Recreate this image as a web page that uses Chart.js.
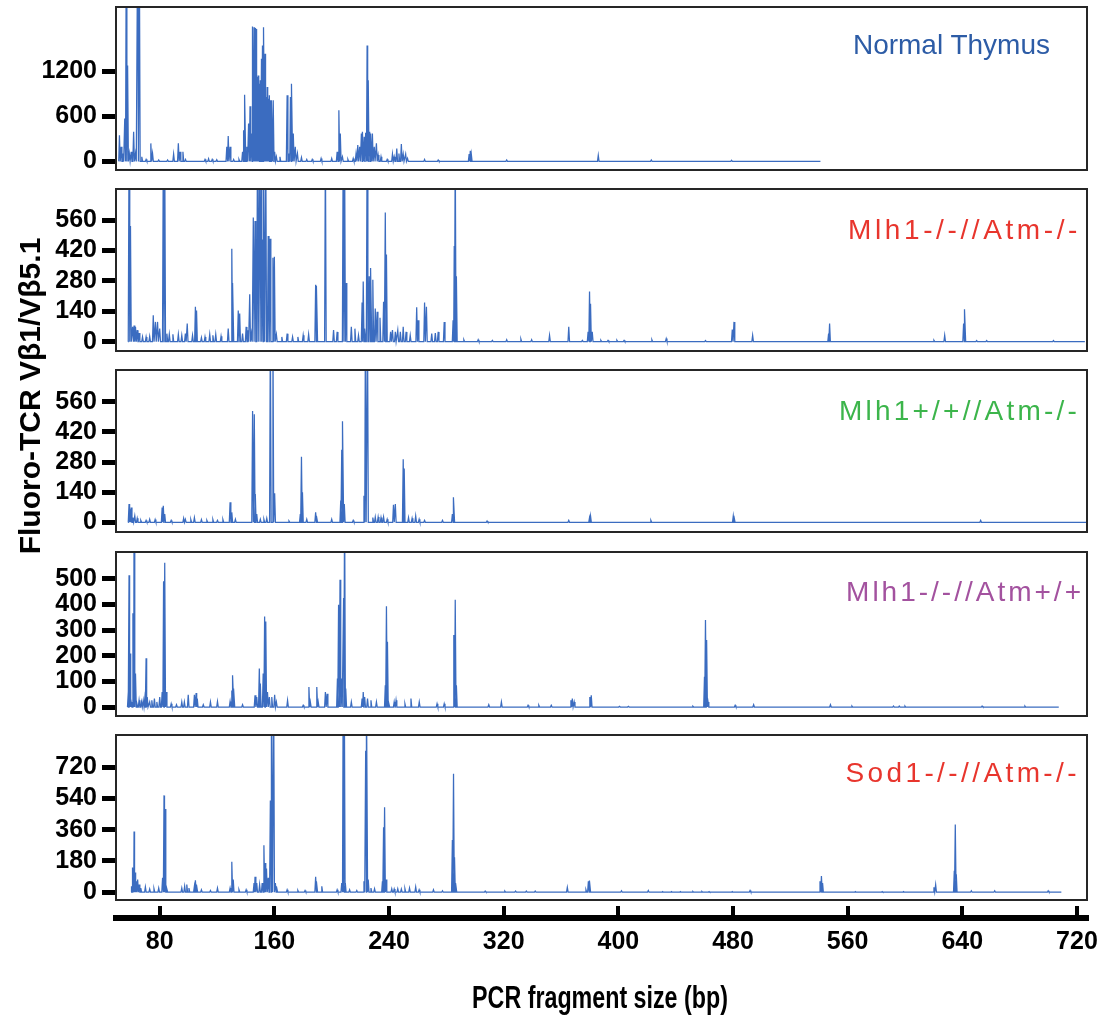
<!DOCTYPE html>
<html>
<head>
<meta charset="utf-8">
<script src="https://cdn.jsdelivr.net/npm/chart.js@4.4.1/dist/chart.umd.min.js"></script>
<style>
  html, body { margin: 0; padding: 0; background: #fff; overflow: hidden; }
  #wrap { position: relative; width: 1098px; height: 1016px; }
  canvas { position: absolute; left: 0; }
  .tag { position: absolute; font-family: 'Liberation Sans', Arial, sans-serif; font-size: 28px; line-height: 28px; white-space: nowrap; }
  #ytitle { position: absolute; left: -185px; top: 380px; width: 430px; height: 32px; line-height: 32px; text-align: center;
            font-family: 'Liberation Sans', Arial, sans-serif; font-weight: bold; font-size: 30px; transform: rotate(-90deg); color: #000; white-space: nowrap; }
  #xtitle { position: absolute; left: 300px; width: 600px; top: 981px; text-align: center; line-height: 34px;
            font-family: 'Liberation Sans', Arial, sans-serif; font-weight: bold; font-size: 31px; color: #000; white-space: nowrap;
            transform: scaleX(0.75); transform-origin: 300px 50%; }
</style>
</head>
<body>
<div id="wrap">
  <canvas id="p1"></canvas>
  <canvas id="p2"></canvas>
  <canvas id="p3"></canvas>
  <canvas id="p4"></canvas>
  <canvas id="p5"></canvas>
  <canvas id="axis"></canvas>
  <div class="tag" id="t1" style="right:48px; top:31px; color:#2d5ca6;">Normal Thymus</div>
  <div class="tag" id="t2" style="right:17px; top:216px; color:#e8352d; letter-spacing:3.6px;">Mlh1-/-//Atm-/-</div>
  <div class="tag" id="t3" style="right:18px; top:397px; color:#3cb54b; letter-spacing:3.2px;">Mlh1+/+//Atm-/-</div>
  <div class="tag" id="t4" style="right:14px; top:578px; color:#a3529f; letter-spacing:3.0px;">Mlh1-/-//Atm+/+</div>
  <div class="tag" id="t5" style="right:18px; top:759px; color:#e8352d; letter-spacing:3.4px;">Sod1-/-//Atm-/-</div>
  <div id="ytitle">Fluoro-TCR Vβ1/Vβ5.1</div>
  <div id="xtitle">PCR fragment size (bp)</div>
</div>
<script>
// Fragment-size axis (bp)
const sizeTicks = [80, 160, 240, 320, 400, 480, 560, 640, 720];
const sizeMin = 49.5;
const sizeMax = 727;

// Normal thymus trace: peak positions (bp) and fluorescence
const thymusSize = [51.9,53.1,54.3,55.6,56.6,57.6,58.8,60.1,61.8,63.1,64.6,65.8,67.5,70.5,73.8,75,79.3,85.5,89.7,93,94.2,96.2,98,111.6,114.1,116.6,119.8,126.8,127.8,129.1,131.6,135.3,137.8,138.8,139.5,140.8,142,143,144,145,145.8,146.5,147.2,148,148.7,149.5,150.2,151,151.7,152.7,153.5,154.2,155,155.7,156.5,157.2,158.2,159.2,160.2,161.4,163.9,168.9,170.2,171.2,172.2,173.2,174.6,176.1,178.9,182.6,186.4,192.6,200,203.8,205,206,207.5,211.3,215,217,218.2,219.5,220.7,221.7,222.7,223.7,224.7,225.5,226.5,227.4,228.4,229.7,231.2,232.4,234.4,238.7,242.4,243.6,245.4,246.9,248.6,249.9,251.6,252.9,264.8,274.3,295.9,296.7,297.4,322.1,386,423,479];
const thymusSignal = [350,195,106,571,2600,1280,106,128,394,106,3000,2800,62,27,240,106,18,18,97,240,128,128,27,27,35,27,22,195,337,195,27,27,128,416,890,195,505,735,372,1799,1790,1781,1768,1125,1147,1037,1081,1369,1546,1790,1435,859,992,837,881,815,815,815,128,62,62,881,106,859,1037,372,195,106,53,27,27,40,40,128,682,372,62,27,40,106,217,195,372,394,328,381,1546,1081,394,372,372,195,240,84,62,27,97,62,173,106,230,97,97,40,27,18,97,142,97,18,80,18,15];
const thymusRun = [51.4, 541];
const thymusTicks = [0, 600, 1200];

// Mlh1-/-//Atm-/-
const dkoSize = [58.6,59.6,61.1,62.1,63.1,64.3,65.6,68,70.5,73,75.5,77,78.5,80,82.5,83.5,85,86.7,89.2,93,95.4,97.9,99.2,102.9,104.9,105.7,109.1,111.6,114.9,117.1,119.1,122.8,127.8,130.3,131.1,134.8,135.8,137.8,140.3,141.5,142.8,144,145.3,146.5,148.2,149.5,150.7,151.7,152.7,154,155.7,157,159,160,161.4,165.2,168.9,172.7,176.4,180.1,183.9,188.8,189.6,195.6,201.3,203.8,208,209,210,213.7,216.2,218.7,221.2,222,223.2,224.7,226.2,227.4,228.7,230.4,231.7,233.7,236.2,237.4,238.2,241.1,242.4,244.4,246.1,247.9,249.9,251.9,254.8,259.3,260.3,264.8,266.1,269.8,272.3,274.3,278.5,284.7,285.5,286.2,287,292.2,302.2,312.1,322.1,332,339.5,352,365.4,374.9,378.9,379.9,380.6,381.8,387.8,392.8,399,404,423.4,433.4,460.8,479.5,480.7,493.7,546.7,547.4,620.2,627.7,640.9,641.8,650,657,703.6];
const dkoSignal = [900,533,68,74,68,53,40,22,22,25,122,91,91,60,900,900,37,34,34,34,29,37,84,29,161,143,19,22,34,29,34,25,60,428,270,143,130,37,68,53,218,37,572,556,900,900,900,471,900,900,487,474,386,391,34,22,37,22,22,29,34,262,257,900,53,45,900,900,270,68,60,29,180,277,60,900,301,339,285,153,138,110,184,595,401,45,53,45,53,45,68,45,29,158,99,180,161,37,40,45,91,99,440,900,301,9,9,6,9,12,9,29,68,6,45,231,174,45,6,6,6,6,9,14,5,56,91,29,37,84,6,29,84,149,5,5,5];
const dkoRun = [57.8, 725.5];
const dkoTicks = [0, 140, 280, 420, 560];

// Mlh1+/+//Atm-/-
const atmSize = [58.6,59.4,60.1,61.3,62.6,64.3,66.8,70.5,73,76.8,81.7,82.5,83.5,88,96.7,97.9,101.7,104.2,109.1,112.9,117.1,120.3,124.1,129.1,130.3,132.8,144.8,146,146.7,147.7,150.2,152.7,154.7,157.2,159,160.2,170.2,178.1,178.9,179.6,182.6,188.8,189.6,200,206.3,207,207.8,208.8,215,222.5,223.5,225,228.7,230.4,232.4,234.4,236.2,238.7,243.1,244.4,249.9,250.6,253.6,256.1,258.6,261,264.8,277.3,284.2,285.2,308.4,365.4,379.9,380.6,422.7,480.2,480.9,652.8];
const atmSignal = [85,61,69,22,30,19,9,9,14,13,69,77,38,9,19,14,13,22,13,9,13,9,13,93,46,14,517,502,132,38,14,14,19,900,900,135,6,38,305,140,14,46,30,14,101,337,470,85,9,124,900,900,22,25,25,22,25,14,82,85,293,250,22,19,30,14,9,9,38,116,6,9,22,30,9,30,19,9];
const atmRun = [57.8, 730];
const atmTicks = [0, 140, 280, 420, 560];

// Mlh1-/-//Atm+/+
const mlhSize = [58.1,58.6,59.4,60.1,61.3,62.1,63.1,64.1,65.6,67.3,68.5,70,70.5,71.3,73,74.5,76.3,78,80,81.7,82.7,83.5,84.5,88,91.7,95.4,97.2,99.9,104.2,105.4,106.2,110.4,115.4,120.3,129.1,130.3,131.1,131.8,137.8,146.5,147.7,149.5,150.2,152.2,153.2,154,155.2,156.5,158.2,160.2,161.4,169.2,180.1,184.1,185.1,189.6,190.6,195.6,196.8,204,204.8,205.8,206.8,208.3,209,209.8,213.7,221.2,222,223,225,227.4,231.2,237.4,238.2,238.9,239.9,243.6,244.9,251.1,255.3,261.1,273.5,278.5,285.2,286.2,287,309.6,318.4,337,344.5,353.2,366.9,367.9,369.2,380.1,381.1,400.8,407,452,460.1,460.8,461.6,462.6,481.5,494.4,548,563,592,596,600,653.8,683.7];
const mlhSignal = [59,514,209,20,366,800,131,20,26,20,26,59,190,39,20,26,33,20,39,59,491,563,59,13,9,20,20,48,48,55,33,9,20,22,22,65,124,72,9,46,39,150,92,131,353,334,59,39,39,48,20,26,7,78,20,78,20,59,52,111,399,497,111,425,800,72,20,33,59,39,33,26,20,85,393,255,20,20,26,13,33,20,13,13,281,419,85,9,20,7,7,7,26,33,20,39,46,3,3,3,118,340,262,20,7,9,9,4,4,4,4,4,4];
const mlhRun = [57.5, 707.3];
const mlhTicks = [0, 100, 200, 300, 400, 500];

// Sod1-/-//Atm-/-
const sodSize = [60.6,61.3,62.1,62.8,63.6,64.6,65.6,66.8,70,73,76,79.3,82,83,83.7,85,95.4,97.4,98.9,100.4,104.2,104.9,105.9,109.1,115.4,120.3,129.1,130.3,131.3,135.3,140.3,145.8,146.5,147.7,149.7,151.5,152.7,153.5,154.5,155.7,157.2,158.2,159.5,160.7,161.7,168.9,176.4,181.4,188.8,189.6,193.1,203.8,207,208,208.8,209.5,212.5,217.5,222.5,223.7,224.5,225.5,227.4,229.9,235.4,236.2,236.9,237.9,241.9,243.6,246.1,248.6,251.1,254.3,258.6,261,271,277.3,284.2,285,285.7,286.7,307.1,320.8,328.3,335.8,342,364.4,377.4,379.1,380.1,402.2,420.9,430.9,437.1,443.3,452,458.3,463.3,479.5,491.9,540.7,541.7,542.5,565.4,584.1,599,620.2,621.4,634.4,635.1,635.8,646.3,662.6,699.9];
const sodSignal = [34,142,350,113,63,73,44,24,30,18,20,24,83,558,479,18,24,34,44,24,34,69,44,14,10,24,24,176,73,14,14,53,89,53,44,53,271,168,136,83,528,1200,1200,53,34,14,10,10,89,63,34,14,53,1200,1200,53,14,10,63,815,1200,73,24,20,63,374,489,73,20,18,20,18,20,24,30,14,14,8,301,682,202,53,6,6,6,6,6,28,14,63,67,8,10,4,4,4,4,4,4,4,10,63,93,53,4,4,4,28,43,123,390,103,8,8,8];
const sodRun = [60, 709.1];
const sodTicks = [0, 180, 360, 540, 720];

// Drawing constants
const TRACE = '#3b6cc0';
const PEAK_HALF = 0.55;               // half base of each peak, bp
const FONT = "'Liberation Sans', Arial, sans-serif";
const FRAME_L = 116, FRAME_R = 1087, PAGE_W = 1098;

// one electropherogram trace: baseline with a narrow peak at every listed size
function trace(run, sizes, signal) {
  const pts = [{ x: run[0], y: 0 }];
  for (let i = 0; i < sizes.length; i++) {
    pts.push({ x: sizes[i] - PEAK_HALF, y: 0 }, { x: sizes[i], y: signal[i] }, { x: sizes[i] + PEAK_HALF, y: 0 });
  }
  pts.push({ x: run[1], y: 0 });
  return pts;
}

const framePlugin = {
  id: 'frame',
  afterDraw(chart) {
    const a = chart.chartArea, ctx = chart.ctx;
    ctx.save();
    ctx.strokeStyle = '#262626';
    ctx.lineWidth = 2;
    ctx.strokeRect(a.left, a.top, a.right - a.left, a.bottom - a.top);
    ctx.restore();
  }
};

const panels = [
  { id: 'p1', top: 7,   bottom: 170, min: -115, max: 2060, ticks: thymusTicks, data: trace(thymusRun, thymusSize, thymusSignal) },
  { id: 'p2', top: 189, bottom: 351, min: -43,  max: 703,  ticks: dkoTicks,    data: trace(dkoRun, dkoSize, dkoSignal) },
  { id: 'p3', top: 370, bottom: 532, min: -45,  max: 708,  ticks: atmTicks,    data: trace(atmRun, atmSize, atmSignal) },
  { id: 'p4', top: 552, bottom: 716, min: -35,  max: 605,  ticks: mlhTicks,    data: trace(mlhRun, mlhSize, mlhSignal) },
  { id: 'p5', top: 735, bottom: 900, min: -45,  max: 906,  ticks: sodTicks,    data: trace(sodRun, sodSize, sodSignal) }
];

const PAD = 12;
panels.forEach(p => {
  const cv = document.getElementById(p.id);
  const h = p.bottom - p.top + 2 * PAD;
  cv.width = PAGE_W; cv.height = h;
  cv.style.width = PAGE_W + 'px'; cv.style.height = h + 'px';
  cv.style.top = (p.top - PAD) + 'px';
  new Chart(cv, {
    type: 'line',
    data: { datasets: [{ data: p.data, borderColor: TRACE, borderWidth: 1.25, pointRadius: 0, tension: 0, fill: false }] },
    options: {
      responsive: false, animation: false, parsing: false, normalized: true,
      layout: { padding: { top: PAD, bottom: PAD, left: 0, right: PAGE_W - FRAME_R } },
      plugins: { legend: { display: false }, tooltip: { enabled: false }, title: { display: false } },
      scales: {
        x: { type: 'linear', min: sizeMin, max: sizeMax, display: false },
        y: {
          type: 'linear', min: p.min, max: p.max,
          afterBuildTicks: s => { s.ticks = p.ticks.map(v => ({ value: v })); },
          afterFit: s => { s.width = FRAME_L; s.paddingTop = 0; s.paddingBottom = 0; },
          grid: { drawOnChartArea: false, drawTicks: true, tickLength: 14, tickWidth: 5, tickColor: '#000' },
          border: { display: false },
          ticks: { color: '#000', padding: 5, autoSkip: false, font: { family: FONT, weight: 'bold', size: 25 }, callback: v => String(v) }
        }
      }
    },
    plugins: [framePlugin]
  });
});

// shared fragment-size axis under the panels
(function () {
  const cv = document.getElementById('axis');
  const top = 895, h = 1016 - 895;
  cv.width = PAGE_W; cv.height = h;
  cv.style.width = PAGE_W + 'px'; cv.style.height = h + 'px';
  cv.style.top = top + 'px';
  new Chart(cv, {
    type: 'line',
    data: { datasets: [{ data: [], borderWidth: 0, pointRadius: 0 }] },
    options: {
      responsive: false, animation: false,
      layout: { padding: { top: 11, bottom: 0, left: FRAME_L, right: PAGE_W - FRAME_R } },
      plugins: { legend: { display: false }, tooltip: { enabled: false } },
      scales: {
        x: {
          type: 'linear', position: 'bottom', min: sizeMin, max: sizeMax,
          afterBuildTicks: s => { s.ticks = sizeTicks.map(v => ({ value: v })); },
          afterFit: s => { s.height = h - 11 - 12; s.paddingLeft = 0; s.paddingRight = 0; },
          grid: { drawOnChartArea: true, drawTicks: false, color: '#000', lineWidth: 4 },
          border: { display: true, width: 6, color: '#000' },
          ticks: { color: '#000', padding: 9, maxRotation: 0, autoSkip: false, font: { family: FONT, weight: 'bold', size: 25 }, callback: v => String(v) }
        },
        y: { display: false, min: 0, max: 1 }
      }
    }
  });
})();
</script>
</body>
</html>
